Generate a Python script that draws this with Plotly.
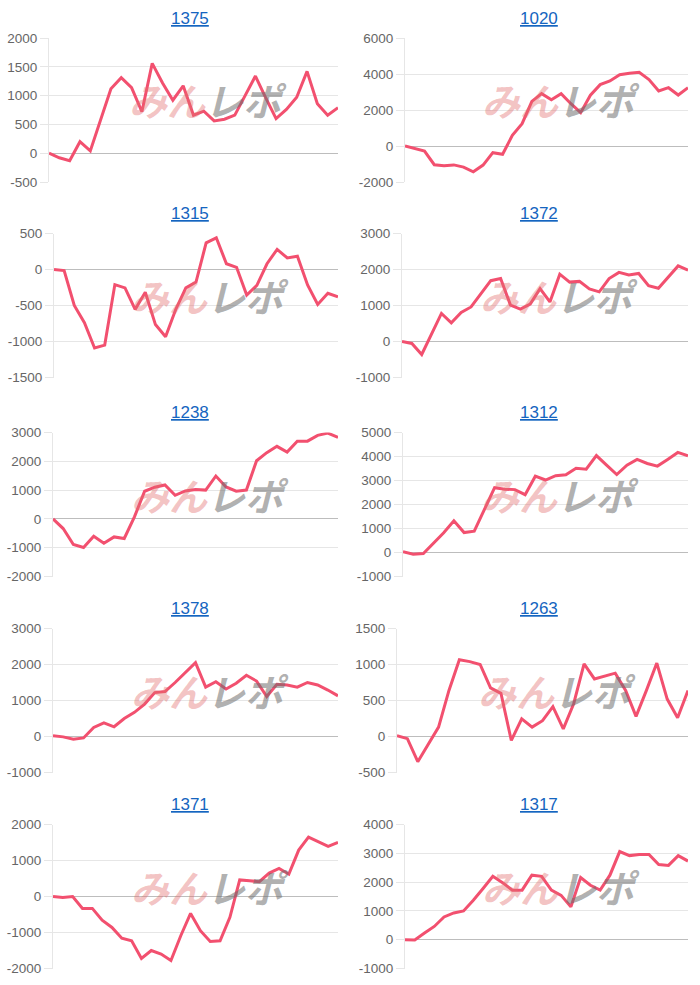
import plotly.graph_objects as go

# ---- data ----
titles = ["1375", "1020", "1315", "1372", "1238", "1312", "1378", "1263", "1371", "1317"]

v1375 = [0, -80, -130, 200, 40, 580, 1120, 1310, 1140, 720, 1560, 1220, 920, 1170, 660,
         730, 560, 590, 660, 1000, 1340, 960, 600, 760, 970, 1420, 860, 660, 790]
v1020 = [0, -150, -280, -1040, -1100, -1050, -1170, -1430, -1060, -370, -460, 590, 1240,
         2480, 2910, 2570, 2910, 2350, 1850, 2820, 3410, 3610, 3960, 4040, 4090, 3690,
         3060, 3240, 2830, 3240]
v1315 = [0, -15, -500, -740, -1090, -1050, -210, -255, -555, -315, -765, -935, -555, -255,
         -175, 370, 440, 80, 30, -355, -220, 80, 280, 160, 185, -215, -485, -330, -380]
v1372 = [0, -55, -360, 220, 780, 520, 805, 960, 1330, 1690, 1750, 1010, 900, 1040, 1470,
         1100, 1870, 1650, 1670, 1460, 1380, 1750, 1920, 1850, 1890, 1550, 1480, 1800,
         2100, 1980]
v1238 = [0, -335, -890, -995, -600, -845, -625, -680, 70, 960, 1100, 1180, 820, 970, 1020,
         1000, 1490, 1110, 960, 1000, 2020, 2300, 2520, 2320, 2700, 2700, 2900, 2980, 2830]
v1312 = [30, -70, -40, 400, 820, 1320, 830, 890, 1800, 2700, 2640, 2620, 2410, 3180, 3020,
         3200, 3240, 3510, 3470, 4040, 3640, 3250, 3640, 3880, 3710, 3600, 3880, 4170, 4030]
v1378 = [20, -10, -75, -40, 250, 380, 270, 500, 670, 900, 1220, 1250, 1500, 1770, 2050,
         1370, 1520, 1320, 1480, 1700, 1540, 1110, 1450, 1430, 1370, 1500, 1430, 1290, 1130]
v1263 = [10, -30, -350, -110, 130, 640, 1065, 1040, 1000, 675, 600, -55, 245, 130, 220,
         415, 105, 455, 1010, 800, 840, 880, 640, 280, 640, 1020, 520, 260, 640]
v1371 = [0, -30, 0, -330, -330, -660, -860, -1160, -1230, -1720, -1500, -1600, -1780,
         -1090, -470, -950, -1250, -1230, -580, 460, 440, 410, 650, 780, 620, 1290, 1650,
         1520, 1390, 1500]
v1317 = [0, -10, 230, 460, 790, 930, 1000, 1370, 1780, 2200, 1980, 1720, 1720, 2240, 2200,
         1720, 1540, 1140, 2160, 1890, 1720, 2240, 3060, 2920, 2960, 2960, 2610, 2580, 2920,
         2730]

series = [v1375, v1020, v1315, v1372, v1238, v1312, v1378, v1263, v1371, v1317]

# y-axis min, max, step per panel
y_min = [-500, -2000, -1500, -1000, -2000, -1000, -1000, -500, -2000, -1000]
y_max = [2000, 6000, 500, 3000, 3000, 5000, 3000, 1500, 2000, 4000]
y_step = [500, 2000, 500, 1000, 1000, 1000, 1000, 500, 1000, 1000]

# ---- layout geometry (pixels) ----
W, H = 700, 985
lefts = [49, 405, 54, 402, 53, 403, 53, 397, 53, 405]
rights = [338, 688]
tops = [38, 233.5, 432.5, 628.5, 824.5]
PH = 144
title_x = [190, 539]

LINE = "#f2506f"
GRID = "#e6e6e6"

fig = go.Figure()
annotations = []
for i, (name, vals) in enumerate(zip(titles, series)):
    row, col = divmod(i, 2)
    l, r = lefts[i], rights[col]
    t = tops[row]
    b = t + PH
    ax = "" if i == 0 else str(i + 1)
    tickvals = list(range(y_min[i], y_max[i] + 1, y_step[i]))
    ticktext = [str(v) for v in tickvals]  # plain hyphen-minus like the reference
    fig.add_trace(go.Scatter(
        x=list(range(len(vals))), y=vals, mode="lines",
        line=dict(color=LINE, width=3), xaxis="x" + ax, yaxis="y" + ax,
        hoverinfo="y", showlegend=False))
    fig.layout["xaxis" + ax] = dict(
        domain=[l / W, r / W], anchor="y" + ax, range=[0, len(vals) - 1],
        showgrid=False, zeroline=False, showticklabels=False, ticks="",
        showline=False, fixedrange=True, automargin=False)
    fig.layout["yaxis" + ax] = dict(
        domain=[1 - b / H, 1 - t / H], anchor="x" + ax,
        range=[y_min[i], y_max[i]], tickmode="array", tickvals=tickvals, ticktext=ticktext,
        showgrid=True, gridcolor=GRID, gridwidth=1,
        zeroline=True, zerolinecolor="#bdbdbd", zerolinewidth=1,
        showline=True, linecolor=GRID, linewidth=1,
        ticks="outside", ticklen=8, tickcolor=GRID,
        tickfont=dict(family="Liberation Sans, Arial, sans-serif", size=13.5, color="#666666"),
        fixedrange=True, automargin=False)
    # title (link style)
    annotations.append(dict(
        text="<u>%s</u>" % name, x=title_x[col] / W, y=1 - (t - 20) / H,
        xref="paper", yref="paper", showarrow=False, xanchor="center", yanchor="middle",
        font=dict(family="Liberation Sans, Arial, sans-serif", size=17, color="#1565c0")))
    # watermark
    cx = l + 0.55 * (r - l)
    cy = t + 0.43 * PH
    annotations.append(dict(
        text="<b><i><span style='color:rgba(226,110,110,0.42)'>みん</span>"
             "<span style='color:rgba(110,110,110,0.55)'>レポ</span></i></b>",
        x=cx / W, y=1 - cy / H, xref="paper", yref="paper", showarrow=False,
        xanchor="center", yanchor="middle",
        font=dict(family="Noto Sans CJK JP", size=38)))

fig.update_layout(
    width=W, height=H, margin=dict(l=0, r=0, t=0, b=0, pad=0, autoexpand=False),
    paper_bgcolor="white", plot_bgcolor="white",
    annotations=annotations, showlegend=False)

fig.write_html("out.html")
